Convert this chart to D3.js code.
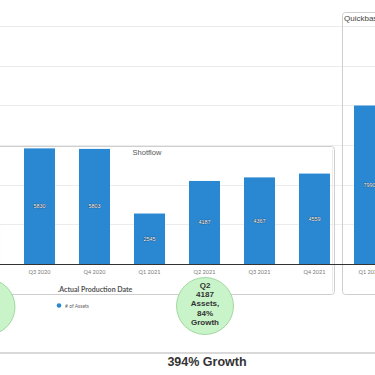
<!DOCTYPE html>
<html lang="en">
<head>
    <meta charset="UTF-8">
    <title>Assets per quarter</title>
    <script src="https://cdn.jsdelivr.net/npm/d3@7"></script>
    <style>
        body { margin: 0; background: #fff; }
        svg { display: block; font-family: "Liberation Sans", Arial, sans-serif; }
        .grid line { stroke: #ececec; stroke-width: 1px; }
        .xlab { font-family: Lato, "Liberation Sans", sans-serif; font-size: 5.5px; fill: #777; }
        .barlab { font-size: 5.5px; fill: #fff; stroke: rgba(0,0,0,0.55); stroke-width: 0.7px; paint-order: stroke; }
        .box { fill: none; stroke: #cfcfcf; stroke-width: 1px; }
        .bubble text { font-size: 8px; font-weight: bold; fill: #333; }
    </style>
</head>
<body>
<script>
// quarters (Q2 2020 sits just off the left edge, Q1 2022 is the Quickbase chart)
var quarters = ["Q2 2020", "Q3 2020", "Q4 2020", "Q1 2021", "Q2 2021", "Q3 2021", "Q4 2021", "Q1 2022"];
var assets = [2275, 5830, 5803, 2545, 4187, 4367, 4559, 7990];
var gridValues = [2000, 4000, 6000, 8000, 10000, 12000];
var bubbleLines = ["Q2", "4187", "Assets,", "84%", "Growth"];
var footer = "394% Growth";

var W = 375, H = 375;
var barColor = "#2a88d2";

var svg = d3.select("body").append("svg")
    .attr("width", W)
    .attr("height", H);

var x = d3.scaleBand()
    .domain(quarters)
    .range([-43, 397])
    .paddingInner(0.436)
    .paddingOuter(0.218);

var y = d3.scaleLinear()
    .domain([0, 12000])
    .range([264, 26]);

// only the quarters whose centre is on the page get text
var shown = quarters.filter(d => x(d) + x.bandwidth() / 2 > 0);

// faint gridlines over the whole width
svg.append("g").attr("class", "grid")
    .selectAll("line")
    .data(gridValues)
    .enter().append("line")
    .attr("x1", 0).attr("x2", W)
    .attr("y1", d => Math.round(y(d)) + 0.5)
    .attr("y2", d => Math.round(y(d)) + 0.5);

// the two chart panels
svg.append("rect").attr("class", "box")
    .attr("x", -20.5).attr("y", 146.5)
    .attr("width", 355).attr("height", 148)
    .attr("rx", 3);
svg.append("line")
    .attr("x1", 332.5).attr("x2", 332.5).attr("y1", 149).attr("y2", 292)
    .attr("stroke", "#ececec");
svg.append("rect").attr("class", "box")
    .attr("x", 342.5).attr("y", 12.5)
    .attr("width", 60).attr("height", 282)
    .attr("rx", 3);

svg.append("text")
    .attr("x", 344).attr("y", 21)
    .attr("font-size", 8).attr("fill", "#444")
    .text("Quickbase");
svg.append("text")
    .attr("x", 147).attr("y", 155)
    .attr("text-anchor", "middle")
    .attr("font-size", 7.5).attr("fill", "#555")
    .text("Shotflow");

// bars
svg.append("g").selectAll("rect")
    .data(quarters)
    .enter().append("rect")
    .attr("x", d => x(d))
    .attr("width", x.bandwidth())
    .attr("y", (d, i) => y(assets[i]))
    .attr("height", (d, i) => y(0) - y(assets[i]))
    .attr("fill", barColor);

svg.append("g").selectAll("text")
    .data(shown)
    .enter().append("text")
    .attr("class", "barlab")
    .attr("x", d => x(d) + x.bandwidth() / 2)
    .attr("y", d => (y(assets[quarters.indexOf(d)]) + y(0)) / 2 + 2)
    .attr("text-anchor", "middle")
    .text(d => assets[quarters.indexOf(d)]);

// baseline
svg.append("line")
    .attr("x1", 0).attr("x2", W)
    .attr("y1", y(0) + 0.5).attr("y2", y(0) + 0.5)
    .attr("stroke", "#333").attr("stroke-width", 1);

// category labels
svg.append("g").selectAll("text")
    .data(shown)
    .enter().append("text")
    .attr("class", "xlab")
    .attr("x", d => x(d) + x.bandwidth() / 2)
    .attr("y", 274)
    .attr("text-anchor", "middle")
    .text(d => d);

// axis title + legend
svg.append("text")
    .attr("x", 95).attr("y", 292)
    .attr("text-anchor", "middle")
    .attr("font-family", "Lato, sans-serif")
    .attr("font-size", 7).attr("font-weight", "bold").attr("fill", "#555")
    .text(".Actual Production Date");
svg.append("circle")
    .attr("cx", 59).attr("cy", 305.5).attr("r", 2.3)
    .attr("fill", barColor);
svg.append("text")
    .attr("x", 65).attr("y", 307.5)
    .attr("font-family", "Lato, sans-serif")
    .attr("font-size", 5).attr("fill", "#666")
    .text("# of Assets");

// green growth bubbles
svg.append("circle")
    .attr("cx", -13).attr("cy", 307).attr("r", 28)
    .attr("fill", "#c9f3c9").attr("stroke", "#92cf92").attr("stroke-width", 0.8);

var bubble = svg.append("g").attr("class", "bubble");
bubble.append("circle")
    .attr("cx", 205).attr("cy", 306).attr("r", 28.5)
    .attr("fill", "#c9f3c9").attr("stroke", "#92cf92").attr("stroke-width", 0.8);
bubble.selectAll("text")
    .data(bubbleLines)
    .enter().append("text")
    .attr("x", 205)
    .attr("y", (d, i) => 288 + i * 9.2)
    .attr("text-anchor", "middle")
    .text(d => d);

// footer
svg.append("line")
    .attr("x1", 0).attr("x2", W)
    .attr("y1", 353).attr("y2", 353)
    .attr("stroke", "#cccccc").attr("stroke-width", 1.5);
svg.append("text")
    .attr("x", 207).attr("y", 366)
    .attr("text-anchor", "middle")
    .attr("font-size", 12.5).attr("font-weight", "bold").attr("fill", "#333")
    .text(footer);
</script>
</body>
</html>
